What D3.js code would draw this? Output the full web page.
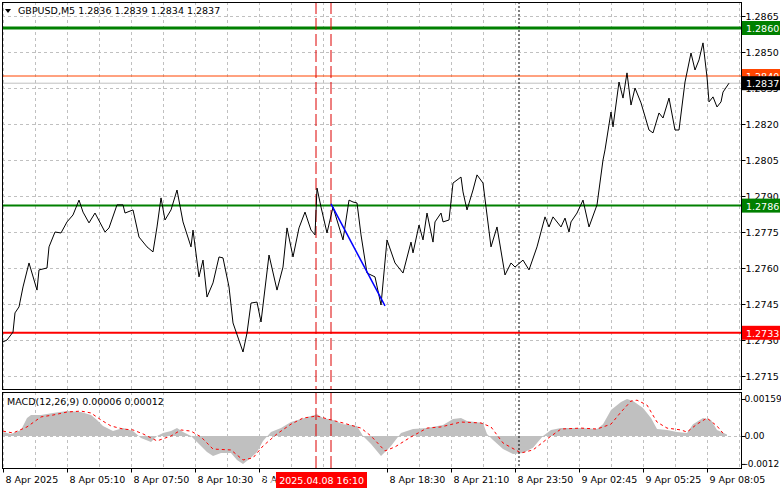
<!DOCTYPE html>
<html>
<head>
<meta charset="utf-8">
<script src="https://cdn.jsdelivr.net/npm/d3@7"></script>
<style>
  body { margin: 0; background: #fff; }
  svg text { font-family: "DejaVu Sans", sans-serif; font-size: 9.5px; }
</style>
</head>
<body>
<div id="chart"></div>
<script>
// price path: [bar index, close]
const priceBars = [0,2,5,6,8,10,13,17,18,22,23,26,29,32,35,38,40,43,46,51,53,57,60,61,65,68,72,75,77,79,81,84,87,90,94,95,98,100,102,105,108,110,113,115,120,122,124,127,129,133,137,140,142,145,148,151,154,156,157,159,162,165,170,173,175,177,179,182,186,189,192,196,200,204,205,208,210,212,215,216,219,220,223,225,229,230,232,235,237,240,244,247,251,254,256,260,263,267,271,273,275,279,281,283,284,287,290,293,297,300,301,304,305,308,310,312,314,316,319,323,325,328,330,333,336,338,341,344,346,348,350,352,353,355,357,359,360,363];
const priceValues = [1.27292,1.27300,1.27333,1.27413,1.27438,1.27521,1.27621,1.27508,1.27592,1.27600,1.27688,1.27750,1.27746,1.27792,1.27821,1.27883,1.27833,1.27788,1.27829,1.27750,1.27767,1.27863,1.27863,1.27829,1.27842,1.27729,1.27688,1.27667,1.27771,1.27892,1.27800,1.27842,1.27925,1.27792,1.27688,1.27758,1.27563,1.27633,1.27479,1.27538,1.27646,1.27642,1.27521,1.27371,1.27250,1.27329,1.27454,1.27458,1.27375,1.27654,1.27508,1.27604,1.27767,1.27646,1.27767,1.27833,1.27758,1.27738,1.27933,1.27854,1.27746,1.27854,1.27717,1.27883,1.27875,1.27871,1.27738,1.27579,1.27563,1.27446,1.27717,1.27621,1.27579,1.27708,1.27663,1.27779,1.27717,1.27829,1.27708,1.27792,1.27829,1.27792,1.27800,1.27954,1.27979,1.27917,1.27842,1.27925,1.27988,1.27954,1.27688,1.27771,1.27571,1.27621,1.27604,1.27633,1.27592,1.27688,1.27813,1.27771,1.27813,1.27771,1.27808,1.27750,1.27792,1.27829,1.27883,1.27771,1.27863,1.28050,1.28092,1.28250,1.28188,1.28375,1.28308,1.28413,1.28279,1.28350,1.28288,1.28175,1.28163,1.28246,1.28225,1.28308,1.28175,1.28175,1.28375,1.28496,1.28425,1.28467,1.28538,1.28396,1.28292,1.28313,1.28271,1.28292,1.28333,1.28370];

// MACD main (histogram) and signal
const histBars = [0,4,9,12,14,19,25,32,39,44,47,50,55,60,65,69,74,77,80,84,87,90,94,97,102,105,109,114,117,120,124,127,130,134,139,144,149,154,157,160,165,170,174,177,180,184,189,194,199,205,212,220,225,229,232,240,242,245,250,255,260,265,270,274,279,289,297,300,304,309,312,315,320,324,327,332,337,342,345,350,354,357,362];
const histValues = [0.00017,0.00009,0.00026,0.00077,0.00090,0.00090,0.00099,0.00107,0.00103,0.00090,0.00069,0.00043,0.00021,0.00034,0.00021,-0.00009,-0.00026,0,0.00013,0.00021,0.00034,0.00017,0,-0.00026,-0.00069,-0.00086,-0.00073,-0.00073,-0.00103,-0.00120,-0.00094,-0.00069,-0.00021,0.00017,0.00034,0.00060,0.00073,0.00086,0.00094,0.00077,0.00069,0.00051,0.00047,0.00043,0,-0.00034,-0.00086,-0.00043,0.00013,0.00030,0.00034,0.00047,0.00073,0.00077,0.00064,0.00056,0.00009,-0.00017,-0.00056,-0.00077,-0.00073,-0.00051,0,0.00026,0.00034,0.00034,0.00030,0.00051,0.00112,0.00146,0.00159,0.00150,0.00120,0.00077,0.00030,0.00026,0.00017,0.00013,0.00051,0.00077,0.00069,0.00026,0.00006];
const signalBars = [0,5,12,19,25,32,39,44,49,54,60,65,70,77,84,89,94,99,105,114,120,125,130,137,144,150,157,164,170,179,184,191,196,204,212,219,229,239,244,250,259,265,272,279,289,297,304,309,314,317,322,327,332,339,342,347,352,357,360];
const signalValues = [0.00021,0.00013,0.00039,0.00082,0.00090,0.00103,0.00107,0.00099,0.00069,0.00043,0.00030,0.00026,0.00009,-0.00021,0,0.00026,0.00021,-0.00004,-0.00056,-0.00060,-0.00103,-0.00094,-0.00043,0.00009,0.00051,0.00077,0.00086,0.00069,0.00056,0.00034,0,-0.00064,-0.00047,-0.00004,0.00034,0.00039,0.00060,0.00056,0.00039,-0.00030,-0.00073,-0.00060,-0.00013,0.00030,0.00034,0.00030,0.00051,0.00103,0.00150,0.00154,0.00133,0.00060,0.00034,0.00026,0.00017,0.00051,0.00077,0.00043,0.00012];

const priceTicks = [1.2865,1.2850,1.2835,1.2820,1.2805,1.2790,1.2775,1.2760,1.2745,1.2730,1.2715];
const macdTicks = [0.00159, 0, -0.0012];
const macdTickLabels = ["0.00159","0.00","-0.0012"];
const timeBars = [0,32,64,96,128,192,224,256,288,320,352];
const timeLabels = ["8 Apr 2025","8 Apr 05:10","8 Apr 07:50","8 Apr 10:30","8 Apr 13:10","8 Apr 18:30","8 Apr 21:10","8 Apr 23:50","9 Apr 02:45","9 Apr 05:25","9 Apr 08:05"];
const gridBars = d3.range(0, 369, 16);

// levels
const levels = [
  {price: 1.2860, color: "#008000", width: 3, label: "1.2860"},
  {price: 1.2840, color: "#ff4500", width: 1, label: "1.2840"},
  {price: 1.2786, color: "#008000", width: 2, label: "1.2786"},
  {price: 1.2733, color: "#ff0000", width: 2, label: "1.2733"}
];
const lastPrice = 1.2837;
const trendLine = [[164, 1.27867], [191, 1.27442]];
const markerBars = [156.5, 164];
const dottedBar = 258;

const W = 781, H = 489;
const left = 2, right = 741, mainTop = 2, mainBottom = 389, macdTop = 392, macdBottom = 468;

const svg = d3.select("#chart").append("svg").attr("width", W).attr("height", H);

const x = d3.scaleLinear().domain([0, 369]).range([3, 741]);
const y = d3.scaleLinear().domain([1.2865, 1.2715]).range([16, 376]);
const ym = d3.scaleLinear().domain([0.00159, 0]).range([399, 436]);

svg.append("clipPath").attr("id", "cm").append("rect")
    .attr("x", left).attr("y", mainTop).attr("width", right - left).attr("height", mainBottom - mainTop);
svg.append("clipPath").attr("id", "cd").append("rect")
    .attr("x", left).attr("y", macdTop).attr("width", right - left).attr("height", macdBottom - macdTop);

const main = svg.append("g").attr("clip-path", "url(#cm)");
const macd = svg.append("g").attr("clip-path", "url(#cd)");

// grid
main.selectAll("line.hg").data(priceTicks).enter().append("line")
    .attr("x1", left).attr("x2", right).attr("y1", d => Math.round(y(d)) + 0.5).attr("y2", d => Math.round(y(d)) + 0.5)
    .attr("stroke", "#c0c0c0").attr("stroke-dasharray", "3,3");
[main, macd].forEach((g, i) => {
  g.selectAll("line.vg").data(gridBars).enter().append("line")
      .attr("x1", d => Math.round(x(d)) + 0.5).attr("x2", d => Math.round(x(d)) + 0.5)
      .attr("y1", i ? macdTop : mainTop).attr("y2", i ? macdBottom : mainBottom)
      .attr("stroke", "#c0c0c0").attr("stroke-dasharray", "3,3");
});
macd.append("line").attr("x1", left).attr("x2", right).attr("y1", ym(0) + 0.5).attr("y2", ym(0) + 0.5)
    .attr("stroke", "#c0c0c0").attr("stroke-dasharray", "3,3");

// MACD histogram and signal
const hist = histBars.map((b, i) => [b, histValues[i]]);
macd.append("path").datum(hist)
    .attr("d", d3.area().x(d => x(d[0])).y0(ym(0)).y1(d => ym(d[1])))
    .attr("fill", "#c0c0c0");
const sig = signalBars.map((b, i) => [b, signalValues[i]]);
macd.append("path").datum(sig)
    .attr("d", d3.line().x(d => x(d[0])).y(d => ym(d[1])))
    .attr("fill", "none").attr("stroke", "#ff0000").attr("stroke-dasharray", "3,3");

// levels
main.selectAll("line.lvl").data(levels).enter().append("line")
    .attr("x1", left).attr("x2", right).attr("y1", d => y(d.price)).attr("y2", d => y(d.price))
    .attr("stroke", d => d.color).attr("stroke-width", d => d.width);
main.append("line").attr("x1", left).attr("x2", right).attr("y1", y(lastPrice)).attr("y2", y(lastPrice))
    .attr("stroke", "#c0c0c0");

// vertical markers
[[main, mainTop, mainBottom], [macd, macdTop, macdBottom]].forEach(([g, t, b]) => {
  g.selectAll("line.mk").data(markerBars).enter().append("line")
      .attr("x1", d => x(d)).attr("x2", d => x(d)).attr("y1", t).attr("y2", b)
      .attr("stroke", "#dd0000").attr("stroke-dasharray", "12,4");
  g.append("line").attr("x1", x(dottedBar)).attr("x2", x(dottedBar)).attr("y1", t).attr("y2", b)
      .attr("stroke", "#000").attr("stroke-dasharray", "2,2");
});

// price
const price = priceBars.map((b, i) => [b, priceValues[i]]);
main.append("path").datum(price)
    .attr("d", d3.line().x(d => x(d[0])).y(d => y(d[1])))
    .attr("fill", "none").attr("stroke", "#000").attr("stroke-width", 1);

main.append("line")
    .attr("x1", x(trendLine[0][0])).attr("y1", y(trendLine[0][1]))
    .attr("x2", x(trendLine[1][0])).attr("y2", y(trendLine[1][1]))
    .attr("stroke", "#0000ff").attr("stroke-width", 1.5);

// borders
svg.append("rect").attr("x", left + 0.5).attr("y", mainTop + 0.5).attr("width", right - left).attr("height", mainBottom - mainTop)
    .attr("fill", "none").attr("stroke", "#000");
svg.append("rect").attr("x", left + 0.5).attr("y", macdTop + 0.5).attr("width", right - left).attr("height", macdBottom - macdTop)
    .attr("fill", "none").attr("stroke", "#000");

// right axes
const ax = svg.append("g").attr("transform", `translate(${right + 0.5},0)`)
    .call(d3.axisRight(y).tickValues(priceTicks).tickSize(4).tickFormat(d3.format(".4f")));
ax.select(".domain").remove();
ax.selectAll("text").attr("x", 4).attr("fill", "#000");
const axm = svg.append("g").attr("transform", `translate(${right + 0.5},0)`)
    .call(d3.axisRight(ym).tickValues(macdTicks).tickSize(4).tickFormat((d, i) => macdTickLabels[i]));
axm.select(".domain").remove();
axm.selectAll("text").attr("x", 3).attr("fill", "#000").style("font-size", "9px");

// level tags
const tags = levels.map(d => ({price: d.price, fill: d.color, label: d.label}))
    .concat([{price: lastPrice, fill: "#000", label: "1.2837"}]);
const tg = svg.selectAll("g.tag").data(tags).enter().append("g")
    .attr("transform", d => `translate(${right + 1},${y(d.price) - 7})`);
tg.append("rect").attr("width", 38).attr("height", 14).attr("fill", d => d.fill);
tg.append("text").attr("x", 4).attr("y", 11).attr("fill", "#fff").text(d => d.label);

// time axis
const tx = svg.append("g").attr("transform", `translate(0,${macdBottom + 0.5})`)
    .call(d3.axisBottom(x).tickValues(timeBars).tickSize(4).tickFormat((d, i) => timeLabels[i]));
tx.select(".domain").remove();
tx.selectAll("text").attr("text-anchor", "start").attr("x", 2).attr("y", 8).attr("fill", "#000");

// highlighted time
const hb = svg.append("g").attr("transform", "translate(276,472)");
hb.append("rect").attr("width", 91).attr("height", 16).attr("fill", "#ff0000");
hb.append("text").attr("x", 88).attr("y", 12).attr("text-anchor", "end").attr("fill", "#fff").text("20: 2025.04.08 16:10");

// headers
svg.append("path").attr("d", "M5,9 L11,9 L8,13 Z").attr("fill", "#000");
svg.append("text").attr("x", 18).attr("y", 14).text("GBPUSD,M5  1.2836 1.2839 1.2834 1.2837");
svg.append("text").attr("x", 7).attr("y", 405).text("MACD(12,26,9) 0.00006 0.00012");
</script>
</body>
</html>
